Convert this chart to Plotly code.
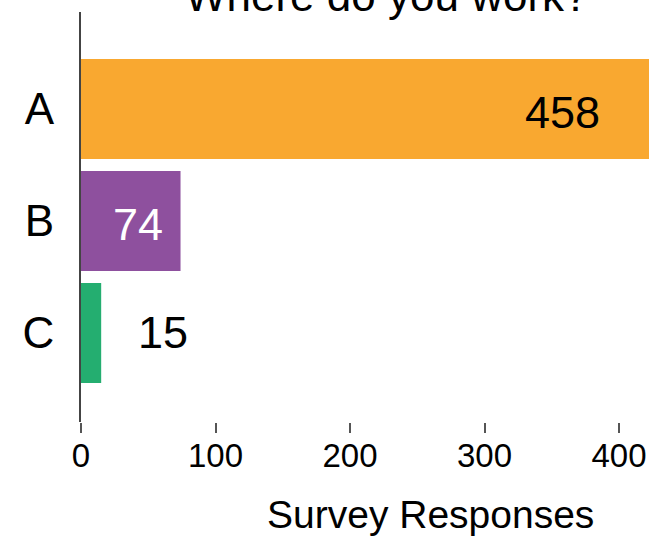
import plotly.graph_objects as go

categories = ["A", "B", "C"]
responses = [458, 74, 15]
bar_colors = ["#F9A830", "#8E509E", "#24AE70"]
label_colors = ["black", "white", "black"]
label_inside = [True, True, False]
x_ticks = [0, 100, 200, 300, 400]
title_text = "Where do you work?"
x_title = "Survey Responses"

W, H = 649, 537
L, R, T, B = 81, 0, 12, 115

fig = go.Figure()
fig.add_trace(go.Bar(
    y=categories, x=responses, orientation="h",
    marker=dict(color=bar_colors, line=dict(width=0)),
    hoverinfo="x+y",
))

annotations = []
for cat, val, col, inside in zip(categories, responses, label_colors, label_inside):
    if inside:
        annotations.append(dict(x=val * 0.846, y=cat, xref="x", yref="y", text=str(val),
                                showarrow=False, xanchor="right", yanchor="middle",
                                yshift=-4,
                                font=dict(family="Liberation Sans, Arial", size=45, color=col)))
    else:
        annotations.append(dict(x=val + 26, y=cat, xref="x", yref="y", text=str(val),
                                showarrow=False, xanchor="left", yanchor="middle",
                                font=dict(family="Liberation Sans, Arial", size=45, color=col)))

plot_w = W - L - R
plot_h = H - T - B
annotations.append(dict(x=(387 - L) / plot_w, y=0.976, xref="paper", yref="paper",
                        text=title_text, showarrow=False, xanchor="center", yanchor="bottom",
                        font=dict(family="Liberation Sans, Arial", size=44, color="black")))
annotations.append(dict(x=(430 - L) / plot_w, y=-0.283, xref="paper", yref="paper",
                        text=x_title, showarrow=False, xanchor="center", yanchor="bottom",
                        font=dict(family="Liberation Sans, Arial", size=39, color="black")))

fig.update_layout(
    width=W, height=H,
    margin=dict(l=L, r=R, t=T, b=B, pad=0, autoexpand=False),
    paper_bgcolor="white", plot_bgcolor="white",
    bargap=0.107,
    showlegend=False,
    annotations=annotations,
)
fig.update_xaxes(
    automargin=False,
    range=[0, plot_w / 1.345],
    tickvals=x_ticks, ticktext=[str(v) for v in x_ticks],
    ticks="outside", ticklen=10, tickwidth=1.5, tickcolor="#555555",
    showline=False, showgrid=False, zeroline=False,
    ticklabelstandoff=-6,
    tickfont=dict(family="Liberation Sans, Arial", size=33, color="black"),
)
fig.update_yaxes(
    automargin=False,
    range=[2.795, -0.866],
    showline=True, linecolor="#444444", linewidth=2,
    ticks="", showgrid=False, zeroline=False,
    ticklabelstandoff=16,
    tickfont=dict(family="Liberation Sans, Arial", size=44, color="black"),
)

fig.write_html("out.html", config={"displayModeBar": False},
               post_script="document.body.style.margin='0';document.body.style.overflow='hidden';")
